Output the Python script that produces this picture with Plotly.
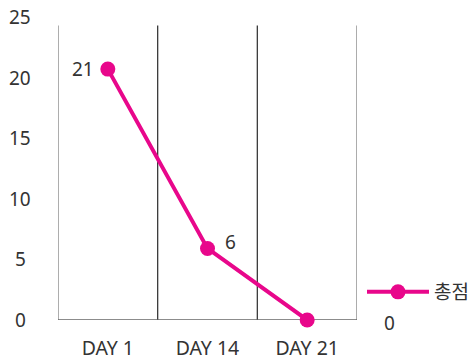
import plotly.graph_objects as go

categories = ["DAY 1", "DAY 14", "DAY 21"]
values = [20.7, 5.9, 0]
value_labels = ["21", "6", "0"]
series_name = "총점"
y_ticks = [0, 5, 10, 15, 20, 25]

color = "#E8078B"
font_fam = "Noto Sans, Noto Sans CJK KR, sans-serif"
txt = "#333333"

fig = go.Figure()
fig.add_trace(go.Scatter(
    x=categories, y=values, mode="lines+markers", name=series_name,
    line=dict(color=color, width=4), marker=dict(color=color, size=15),
    cliponaxis=False,
))

shapes = []
n = len(categories)
for i in range(n + 1):
    edge = i == 0 or i == n
    shapes.append(dict(type="line", xref="x", yref="y", x0=i - 0.5, x1=i - 0.5,
                       y0=0, y1=24.3, line=dict(color="#808080" if edge else "#3a3a3a", width=1.3),
                       layer="below"))
shapes.append(dict(type="line", xref="x", yref="y", x0=-0.5, x1=n - 0.5, y0=0, y1=0,
                   line=dict(color="#666666", width=1.3), layer="below"))

annotations = []
offsets = [(-25, 0), (23, 6), (82, -3)]
for i, (c, v, lab) in enumerate(zip(categories, values, value_labels)):
    dx, dy = offsets[i]
    annotations.append(dict(x=c, y=v, xref="x", yref="y", text=lab, showarrow=False,
                            xshift=dx, yshift=dy, font=dict(size=19, color=txt, family=font_fam)))
for t in y_ticks:
    annotations.append(dict(x=(20 - 58) / 299, y=t, xref="paper", yref="y", text=str(t),
                            showarrow=False, xanchor="center", yanchor="middle",
                            font=dict(size=19, color=txt, family=font_fam)))

fig.update_layout(
    width=473, height=361,
    margin=dict(l=58, r=116, t=17, b=41, autoexpand=False),
    paper_bgcolor="white", plot_bgcolor="white",
    font=dict(family=font_fam, size=19, color=txt),
    showlegend=True,
    legend=dict(xref="container", yref="container", x=362 / 473, y=1 - 292 / 361,
                xanchor="left", yanchor="middle",
                font=dict(size=19, color=txt, family=font_fam), bgcolor="rgba(0,0,0,0)",
                itemwidth=62),
    shapes=shapes, annotations=annotations,
    xaxis=dict(type="category", range=[-0.5, n - 0.5], showgrid=False, zeroline=False,
               showline=False, ticks="", tickfont=dict(size=19.5, color=txt),
               ticklabelstandoff=14, automargin=False),
    yaxis=dict(range=[0, 25], showgrid=False, zeroline=False, showline=False,
               tickvals=y_ticks, showticklabels=False, ticks="", automargin=False),
)

fig.write_html("out.html")
